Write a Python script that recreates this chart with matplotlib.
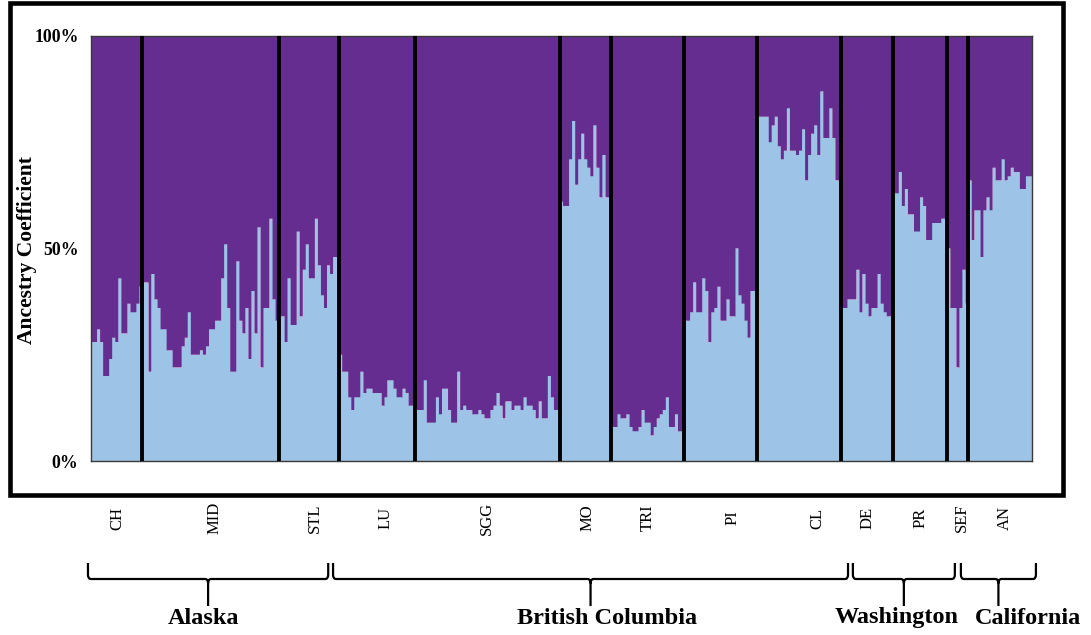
import numpy as np
import matplotlib
matplotlib.use("Agg")
import matplotlib.pyplot as plt
from matplotlib.patches import Rectangle, PathPatch
from matplotlib.path import Path
from matplotlib.transforms import blended_transform_factory

# Colours
COL_PURPLE = "#652d90"
COL_BLUE = "#9dc3e6"
COL_LINE = "#000000"

# Ancestry coefficient of the light-blue cluster, one value per individual
ch = [0.28, 0.28, 0.31, 0.28, 0.20, 0.20, 0.24, 0.29, 0.28, 0.43, 0.30, 0.30,
      0.37, 0.35, 0.35, 0.37, 0.41]
mid = [0.42, 0.42, 0.21, 0.44, 0.38, 0.36, 0.31, 0.31, 0.26, 0.26, 0.22, 0.22,
       0.22, 0.27, 0.29, 0.35, 0.25, 0.25, 0.25, 0.26, 0.25, 0.27, 0.31, 0.31,
       0.33, 0.33, 0.43, 0.51, 0.36, 0.21, 0.21, 0.47, 0.33, 0.30, 0.36, 0.24,
       0.40, 0.30, 0.55, 0.22, 0.36, 0.36, 0.57, 0.38, 0.33]
stl = [0.34, 0.34, 0.28, 0.43, 0.32, 0.32, 0.54, 0.34, 0.45, 0.51, 0.43, 0.43,
       0.57, 0.46, 0.39, 0.36, 0.46, 0.44, 0.48, 0.48]
lu = [0.25, 0.21, 0.21, 0.15, 0.12, 0.15, 0.15, 0.21, 0.16, 0.17, 0.17, 0.16,
      0.16, 0.16, 0.13, 0.15, 0.19, 0.19, 0.17, 0.15, 0.15, 0.17, 0.16, 0.13, 0.13]
sgg = [0.12, 0.12, 0.12, 0.19, 0.09, 0.09, 0.09, 0.15, 0.11, 0.17, 0.17, 0.12,
       0.09, 0.09, 0.21, 0.12, 0.13, 0.12, 0.12, 0.11, 0.11, 0.12, 0.11, 0.10,
       0.10, 0.12, 0.13, 0.16, 0.13, 0.10, 0.14, 0.14, 0.12, 0.13, 0.13, 0.12,
       0.15, 0.13, 0.13, 0.12, 0.10, 0.14, 0.10, 0.10, 0.20, 0.15, 0.12, 0.12]
mo = [0.61, 0.60, 0.60, 0.71, 0.80, 0.65, 0.71, 0.77, 0.71, 0.69, 0.67, 0.79,
      0.69, 0.62, 0.72, 0.62, 0.62]
tri = [0.08, 0.08, 0.11, 0.10, 0.10, 0.11, 0.08, 0.07, 0.07, 0.08, 0.12, 0.09,
       0.09, 0.06, 0.08, 0.10, 0.11, 0.12, 0.15, 0.08, 0.08, 0.11, 0.07, 0.07]
pi = [0.33, 0.33, 0.35, 0.42, 0.35, 0.35, 0.43, 0.40, 0.28, 0.35, 0.36, 0.41,
      0.33, 0.33, 0.38, 0.34, 0.34, 0.50, 0.39, 0.37, 0.33, 0.29, 0.40, 0.40]
cl = [0.81, 0.81, 0.81, 0.81, 0.75, 0.79, 0.81, 0.74, 0.71, 0.73, 0.83, 0.73,
      0.73, 0.72, 0.73, 0.78, 0.66, 0.72, 0.77, 0.79, 0.72, 0.87, 0.76, 0.76,
      0.83, 0.76, 0.66, 0.66]
de = [0.36, 0.36, 0.38, 0.38, 0.38, 0.45, 0.35, 0.44, 0.37, 0.34, 0.36, 0.36,
      0.44, 0.37, 0.35, 0.34, 0.34]
pr = [0.63, 0.63, 0.68, 0.60, 0.64, 0.58, 0.58, 0.54, 0.54, 0.62, 0.60, 0.52,
      0.52, 0.56, 0.56, 0.56, 0.57, 0.57]
sef = [0.50, 0.36, 0.36, 0.22, 0.36, 0.45, 0.37]
an = [0.66, 0.52, 0.59, 0.59, 0.48, 0.59, 0.62, 0.59, 0.69, 0.66, 0.66, 0.71,
      0.66, 0.67, 0.69, 0.68, 0.68, 0.64, 0.64, 0.67, 0.67]

pop_names = ["CH", "MID", "STL", "LU", "SGG", "MO", "TRI", "PI", "CL",
             "DE", "PR", "SEF", "AN"]
pop_values = [ch, mid, stl, lu, sgg, mo, tri, pi, cl, de, pr, sef, an]
# small horizontal nudges of the population names (points)
pop_nudge = [0.5, 3, 4.5, 6, 0, 1, 0, 9, 13.5, 0, 0, 3, 3.5]

regions = ["Alaska", "British Columbia", "Washington", "California"]
region_pops = [["CH", "MID", "STL"],
               ["LU", "SGG", "MO", "TRI", "PI", "CL"],
               ["DE", "PR"],
               ["SEF", "AN"]]
# bracket end offsets from the group edges (individuals) and label nudge (points)
bracket_pad = [(-1.0, -3.6), (-2.0, 2.2), (3.8, 2.5), (4.5, 1.3)]
region_nudge = [-3.6, 11.9, -5, 21]

y_ticks = [0, 0.5, 1.0]
y_ticklabels = ["0%", "50%", "100%"]

plt.rcParams["font.family"] = ["Liberation Serif", "DejaVu Serif"]

blue = np.concatenate([np.asarray(v, float) for v in pop_values])
n = len(blue)
edges = np.arange(n + 1)
bounds = np.concatenate([[0], np.cumsum([len(v) for v in pop_values])])
W, H = 1091, 635

fig = plt.figure(figsize=(W / 100, H / 100), dpi=100)
ax = fig.add_axes([91 / W, 174 / H, 941 / W, 425 / H])

ax.stairs(blue, edges, baseline=0, fill=True, color=COL_BLUE, lw=0)
ax.stairs(np.ones(n), edges, baseline=blue, fill=True, color=COL_PURPLE, lw=0)

# population separators
for b in bounds[1:-1]:
    ax.axvline(b, color=COL_LINE, lw=2.8, zorder=5)

ax.set_xlim(0, n)
ax.set_ylim(0, 1)
ax.set_xticks([])
ax.set_yticks(y_ticks)
ax.set_yticklabels(y_ticklabels, fontsize=12.8, fontweight="bold")
ax.tick_params(axis="y", length=0, pad=9)
for sp in ax.spines.values():
    sp.set_color("#3a3a3a")
    sp.set_linewidth(1.0)

fig.text(27 / W, 0.606, "Ancestry Coefficient", rotation=90,
         fontsize=15.5, fontweight="bold", ha="center", va="center")

# outer frame
fig.add_artist(Rectangle((10 / W, 140 / H), 1053 / W, 492 / H,
                         transform=fig.transFigure, fill=False,
                         lw=3.3, ec=COL_LINE))

trans = blended_transform_factory(ax.transData, fig.transFigure)

# population names
for i, (name, dx) in enumerate(zip(pop_names, pop_nudge)):
    xc = (bounds[i] + bounds[i + 1]) / 2
    ax.annotate(name, xy=(xc, 1 - 518 / H), xycoords=trans,
                xytext=(dx, 0), textcoords="offset points",
                rotation=90, fontsize=12, ha="center", va="center",
                annotation_clip=False)


def draw_bracket(x0, x1):
    ytop, yh, ystem = 1 - 563 / H, 1 - 579 / H, 1 - 606 / H
    r, dy = 1.0, 0.007
    xm = (x0 + x1) / 2
    verts = [(x0, ytop), (x0, yh + dy), (x0, yh), (x0 + r, yh),
             (xm - r, yh), (xm, yh), (xm, yh - dy), (xm, ystem),
             (xm, yh - dy), (xm, yh), (xm + r, yh),
             (x1 - r, yh), (x1, yh), (x1, yh + dy), (x1, ytop)]
    codes = [Path.MOVETO, Path.LINETO, Path.CURVE3, Path.CURVE3,
             Path.LINETO, Path.CURVE3, Path.CURVE3, Path.LINETO,
             Path.MOVETO, Path.CURVE3, Path.CURVE3,
             Path.LINETO, Path.CURVE3, Path.CURVE3, Path.LINETO]
    ax.add_patch(PathPatch(Path(verts, codes), fill=False, lw=1.6,
                           ec=COL_LINE, transform=trans, clip_on=False))
    return xm


for name, members, pad, dx in zip(regions, region_pops, bracket_pad, region_nudge):
    i0 = pop_names.index(members[0])
    i1 = pop_names.index(members[-1])
    xm = draw_bracket(bounds[i0] + pad[0], bounds[i1 + 1] + pad[1])
    ax.annotate(name, xy=(xm, 1 - 618 / H), xycoords=trans,
                xytext=(dx, 0), textcoords="offset points",
                fontsize=17.5, fontweight="bold", ha="center", va="center",
                annotation_clip=False)

fig.savefig("out.png", dpi=100, facecolor="white")
